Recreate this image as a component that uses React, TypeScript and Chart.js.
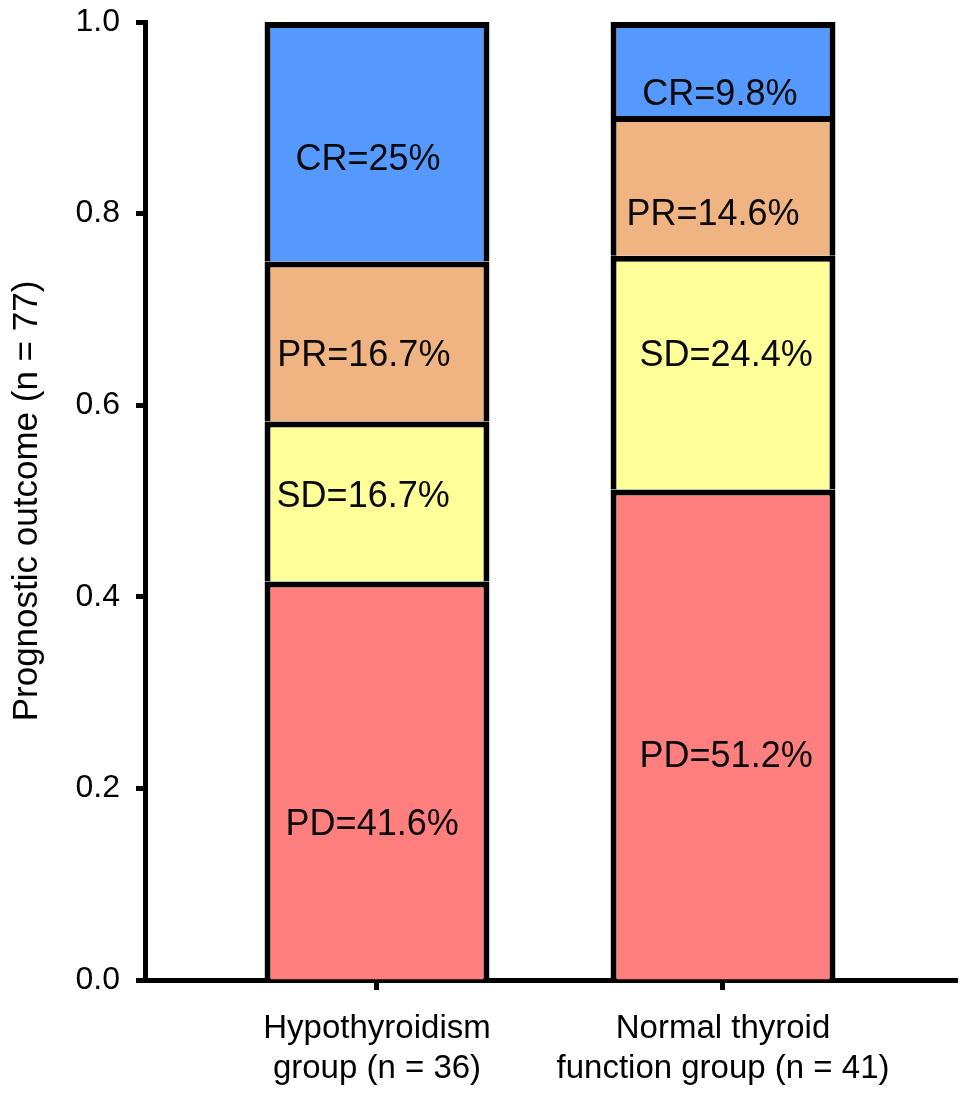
import React, { useEffect, useRef } from "react";
import { Chart, registerables } from "chart.js";

Chart.register(...registerables);

// Groups along the x axis (placed at x = 1 and x = 2)
const groupPositions = [1, 2];
const groupLabels = [
  ["Hypothyroidism", "group (n = 36)"],
  ["Normal thyroid", "function group (n = 41)"],
];

// Outcome shares per group, in percent (stacked bottom to top)
const outcomeNames = ["PD", "SD", "PR", "CR"];
const pdValues = [41.6, 51.2];
const sdValues = [16.7, 24.4];
const prValues = [16.7, 14.6];
const crValues = [25, 9.8];

const outcomeColors = ["#FF7F7F", "#FFFF99", "#F0B482", "#5599FF"];

// Y-axis ticks
const yTickValues = [0, 0.2, 0.4, 0.6, 0.8, 1.0];

// Where each in-bar label sits, in axis units: [group][outcome] -> [x, y]
const labelAnchors = [
  [
    [0.986, 0.162],
    [0.96, 0.504],
    [0.962, 0.651],
    [0.974, 0.856],
  ],
  [
    [2.009, 0.233],
    [2.009, 0.651],
    [1.971, 0.798],
    [1.991, 0.924],
  ],
];

const FONT = "'Liberation Sans', Arial, Helvetica, sans-serif";

export default function App() {
  const canvasRef = useRef<HTMLCanvasElement | null>(null);

  useEffect(() => {
    document.body.style.margin = "0";
    const canvas = canvasRef.current;
    if (!canvas) return;

    const series = [pdValues, sdValues, prValues, crValues];

    const datasets = series.map((vals, si) => ({
      label: outcomeNames[si],
      data: vals.map((v, gi) => ({ x: groupPositions[gi], y: v / 100 })),
      backgroundColor: outcomeColors[si],
      borderColor: "#000000",
      borderWidth: { top: 6, left: 6, right: 6, bottom: 0 },
      borderSkipped: false,
      barPercentage: 0.65,
      categoryPercentage: 1,
    }));

    const segmentLabels = {
      id: "segmentLabels",
      afterDatasetsDraw(chart: any) {
        const { ctx, scales } = chart;
        ctx.save();
        ctx.font = `36px ${FONT}`;
        ctx.fillStyle = "#0a0a0a";
        ctx.textAlign = "center";
        ctx.textBaseline = "middle";
        series.forEach((vals, si) => {
          vals.forEach((v, gi) => {
            const [ax, ay] = labelAnchors[gi][si];
            const px = scales.x.getPixelForValue(ax);
            const py = scales.y.getPixelForValue(ay);
            ctx.fillText(`${outcomeNames[si]}=${v}%`, px, py);
          });
        });
        ctx.restore();
      },
    };

    const chart = new Chart(canvas, {
      type: "bar",
      data: { datasets: datasets as any },
      options: {
        animation: false,
        responsive: false,
        maintainAspectRatio: false,
        layout: { padding: { top: 22, right: 12, bottom: 0, left: 0 } },
        plugins: {
          legend: { display: false },
          tooltip: { enabled: false },
        },
        scales: {
          x: {
            type: "linear",
            stacked: true,
            offset: false,
            min: 0.3295,
            max: 2.6763,
            z: 1,
            afterBuildTicks(scale: any) {
              scale.ticks = groupPositions.map((v) => ({ value: v }));
            },
            afterFit(scale: any) {
              scale.height = 121;
              scale.paddingLeft = 0;
              scale.paddingRight = 0;
            },
            grid: {
              offset: false,
              drawOnChartArea: false,
              drawTicks: true,
              tickLength: 10,
              tickWidth: 5,
              tickColor: "#000000",
            },
            border: { display: true, color: "#000000", width: 5 },
            ticks: {
              autoSkip: false,
              maxRotation: 0,
              color: "#000000",
              padding: 19,
              font: { family: FONT, size: 33, lineHeight: 1.22 },
              callback: (v: any) => {
                const i = groupPositions.indexOf(Number(v));
                return i >= 0 ? groupLabels[i] : "";
              },
            },
          },
          y: {
            type: "linear",
            stacked: true,
            min: 0,
            max: 1,
            afterBuildTicks(scale: any) {
              scale.ticks = yTickValues.map((v) => ({ value: v }));
            },
            afterFit(scale: any) {
              scale.width = 145;
              scale.paddingTop = 0;
              scale.paddingBottom = 0;
            },
            grid: {
              drawOnChartArea: false,
              drawTicks: true,
              tickLength: 9,
              tickWidth: 5,
              tickColor: "#000000",
            },
            border: { display: true, color: "#000000", width: 5 },
            ticks: {
              color: "#000000",
              padding: 16,
              font: { family: FONT, size: 32 },
              callback: (v: any) => Number(v).toFixed(1),
            },
            title: {
              display: true,
              text: "Prognostic outcome (n = 77)",
              color: "#000000",
              font: { family: FONT, size: 35 },
              padding: { top: 6, bottom: 0 },
            },
          },
        },
      },
      plugins: [segmentLabels],
    });

    return () => chart.destroy();
  }, []);

  return (
    <div style={{ width: 969, height: 1101 }}>
      <canvas ref={canvasRef} width={969} height={1101} style={{ display: "block" }} />
    </div>
  );
}
